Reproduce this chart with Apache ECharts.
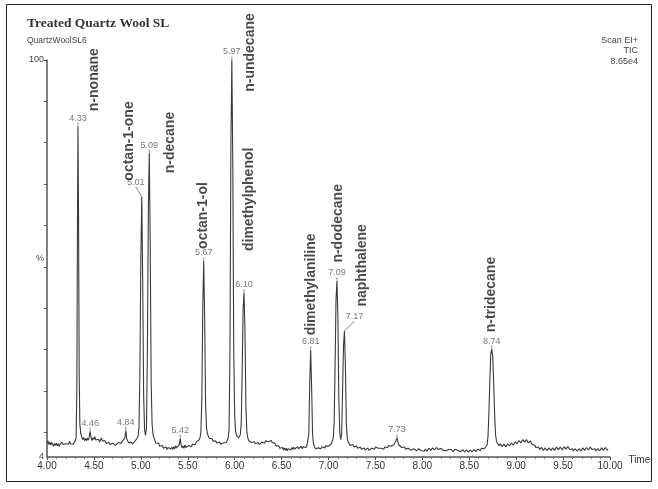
<!DOCTYPE html>
<html><head><meta charset="utf-8">
<script src="https://cdn.jsdelivr.net/npm/echarts@6/dist/echarts.min.js"></script>
<style>html,body{margin:0;padding:0;background:#fff}#c{width:658px;height:489px}</style>
</head><body><div id="c"></div>
<script>
// Chromatogram trace: [retention time (min), relative intensity (%)]
const trace = [
[4.00,7.4],[4.01,7.9],[4.02,7.0],[4.03,7.6],[4.04,6.9],[4.05,7.5],[4.06,7.1],[4.07,6.6],[4.08,7.3],[4.09,6.8],
[4.10,7.4],[4.11,6.7],[4.12,7.2],[4.13,6.5],[4.14,7.1],[4.15,6.8],[4.16,7.6],[4.17,7.0],[4.18,7.3],[4.19,6.7],
[4.20,7.2],[4.21,6.9],[4.22,7.5],[4.23,7.1],[4.24,7.8],[4.25,7.2],[4.26,7.6],[4.27,7.3],[4.28,7.1],[4.29,7.5],
[4.30,7.9],[4.31,8.6],[4.318,20],[4.325,62],[4.33,84],[4.336,63],[4.343,24],[4.35,12],[4.36,9.6],
[4.37,8.9],[4.38,8.2],[4.39,8.7],[4.40,8.0],[4.41,8.5],[4.42,7.9],[4.43,8.6],[4.44,8.1],[4.45,8.8],[4.46,10.2],
[4.47,8.6],[4.48,8.0],[4.49,8.7],[4.50,8.2],[4.51,8.9],[4.52,8.1],[4.53,8.4],[4.54,7.8],[4.55,8.3],[4.56,7.6],
[4.57,8.1],[4.58,8.6],[4.59,7.9],[4.60,8.2],[4.61,7.5],[4.62,7.9],[4.63,7.3],[4.64,7.7],[4.65,7.2],[4.66,7.5],
[4.67,7.0],[4.68,7.4],[4.69,6.9],[4.70,7.3],[4.71,7.0],[4.72,7.4],[4.73,6.8],[4.74,7.2],[4.75,7.0],[4.76,7.5],
[4.77,7.1],[4.78,7.6],[4.79,7.3],[4.80,7.8],[4.81,7.5],[4.82,8.0],[4.83,8.6],[4.84,10.4],[4.85,8.4],[4.86,7.9],
[4.87,7.4],[4.88,7.7],[4.89,7.2],[4.90,7.6],[4.91,7.1],[4.92,7.5],[4.93,7.2],[4.94,7.9],[4.95,7.6],[4.96,8.3],
[4.97,8.9],[4.98,11],[4.99,24],[5.00,52],[5.01,67],[5.02,46],[5.03,19],[5.04,10.5],[5.05,9.2],[5.06,11],
[5.07,30],[5.08,64],[5.09,77.5],[5.10,55],[5.11,22],[5.12,12],[5.13,9.5],[5.14,8.6],[5.15,8.0],[5.16,7.4],
[5.17,7.8],[5.18,7.0],[5.19,7.3],[5.20,6.6],[5.21,7.0],[5.22,6.3],[5.23,6.8],[5.24,6.1],[5.25,6.5],[5.26,5.9],
[5.27,6.4],[5.28,5.8],[5.29,6.3],[5.30,6.0],[5.31,6.6],[5.32,5.9],[5.33,6.4],[5.34,5.8],[5.35,6.5],[5.36,6.0],
[5.37,6.7],[5.38,6.2],[5.39,6.6],[5.40,6.3],[5.41,7.0],[5.42,8.5],[5.43,6.8],[5.44,6.2],[5.45,6.7],[5.46,6.1],
[5.47,6.9],[5.48,6.3],[5.49,6.6],[5.50,6.2],[5.51,6.8],[5.52,6.4],[5.53,7.0],[5.54,6.5],[5.55,7.1],[5.56,6.7],
[5.57,7.3],[5.58,7.0],[5.59,7.6],[5.60,7.3],[5.61,7.9],[5.62,8.1],[5.63,8.6],[5.64,10],[5.65,18],[5.66,40],
[5.67,51.4],[5.68,38],[5.69,17],[5.70,11],[5.71,9.6],[5.72,9.0],[5.73,8.5],[5.74,8.8],[5.75,8.1],[5.76,8.4],
[5.77,7.8],[5.78,8.1],[5.79,7.6],[5.80,7.9],[5.81,7.4],[5.82,7.7],[5.83,7.2],[5.84,7.6],[5.85,7.1],[5.86,7.5],
[5.87,7.0],[5.88,7.4],[5.89,7.2],[5.90,7.7],[5.91,7.5],[5.92,8.0],[5.93,8.6],[5.94,10.5],[5.95,30],[5.96,80],
[5.97,100],[5.98,75],[5.99,30],[6.00,14],[6.01,10.2],[6.02,9.2],[6.03,8.8],[6.04,8.6],[6.05,8.9],[6.06,9.4],
[6.07,12],[6.08,25],[6.09,40],[6.10,43.7],[6.11,34],[6.12,16],[6.13,10],[6.14,8.6],[6.15,8.0],[6.16,7.6],
[6.17,8.1],[6.18,7.5],[6.19,7.9],[6.20,7.3],[6.21,7.7],[6.22,7.2],[6.23,7.6],[6.24,7.1],[6.25,7.5],[6.26,7.0],
[6.27,7.4],[6.28,7.2],[6.29,7.6],[6.30,7.3],[6.31,7.7],[6.32,7.4],[6.33,7.9],[6.34,7.6],[6.35,8.0],[6.36,7.7],
[6.37,8.1],[6.38,7.8],[6.39,8.0],[6.40,7.5],[6.41,7.8],[6.42,7.1],[6.43,7.3],[6.44,6.7],[6.45,6.9],[6.46,6.4],
[6.47,6.7],[6.48,6.1],[6.49,6.5],[6.50,5.9],[6.51,6.3],[6.52,5.7],[6.53,6.2],[6.54,5.6],[6.55,6.1],[6.56,5.5],
[6.57,6.0],[6.58,5.6],[6.59,6.2],[6.60,5.7],[6.61,6.3],[6.62,5.8],[6.63,6.4],[6.64,5.9],[6.65,6.3],[6.66,5.8],
[6.67,6.5],[6.68,6.0],[6.69,6.4],[6.70,6.1],[6.71,6.6],[6.72,6.0],[6.73,6.5],[6.74,6.2],[6.75,6.7],[6.76,6.3],
[6.77,6.8],[6.78,7.2],[6.79,9.5],[6.80,22],[6.81,29.9],[6.82,21],[6.83,9.5],[6.84,7.2],[6.85,6.5],[6.86,6.0],
[6.87,6.3],[6.88,5.8],[6.89,6.2],[6.90,5.9],[6.91,6.4],[6.92,6.0],[6.93,6.5],[6.94,6.1],[6.95,6.6],[6.96,6.2],
[6.97,6.7],[6.98,6.4],[6.99,6.9],[7.00,6.6],[7.01,7.0],[7.02,6.8],[7.03,7.2],[7.04,7.6],[7.05,8.5],[7.06,12],
[7.07,26],[7.08,42],[7.09,46.6],[7.10,38],[7.11,18],[7.12,10],[7.13,8.2],[7.14,9.5],[7.15,20],[7.16,31],
[7.17,34.5],[7.18,26],[7.19,12],[7.20,8.5],[7.21,7.6],[7.22,7.3],[7.23,6.8],[7.24,7.2],[7.25,6.6],[7.26,7.0],
[7.27,6.4],[7.28,6.8],[7.29,6.3],[7.30,6.7],[7.31,6.1],[7.32,6.5],[7.33,6.0],[7.34,6.4],[7.35,5.9],[7.36,6.3],
[7.37,5.8],[7.38,6.2],[7.39,5.7],[7.40,6.1],[7.41,5.8],[7.42,6.2],[7.43,5.6],[7.44,6.0],[7.45,5.7],[7.46,6.1],
[7.47,5.8],[7.48,6.3],[7.49,5.9],[7.50,6.4],[7.51,6.0],[7.52,6.5],[7.53,6.1],[7.54,6.0],[7.55,5.7],[7.56,6.1],
[7.57,5.8],[7.58,6.2],[7.59,5.9],[7.60,6.4],[7.61,6.0],[7.62,6.6],[7.63,6.3],[7.64,6.8],[7.65,6.5],[7.66,6.9],
[7.67,6.6],[7.68,7.0],[7.69,6.7],[7.70,7.1],[7.71,7.3],[7.72,8.0],[7.73,8.6],[7.74,7.6],[7.75,6.9],[7.76,6.5],
[7.77,6.8],[7.78,6.3],[7.79,6.6],[7.80,6.1],[7.81,6.4],[7.82,5.9],[7.83,6.2],[7.84,5.8],[7.85,6.1],[7.86,5.7],
[7.87,6.0],[7.88,5.6],[7.89,5.9],[7.90,5.5],[7.91,6.0],[7.92,5.7],[7.93,6.1],[7.94,5.5],[7.95,5.8],[7.96,6.0],
[7.97,5.6],[7.98,5.9],[7.99,5.5],[8.00,5.9],[8.01,5.6],[8.02,5.4],[8.03,5.9],[8.04,5.8],[8.05,5.4],[8.06,5.7],
[8.07,6.1],[8.08,6.0],[8.09,5.6],[8.10,5.9],[8.11,6.2],[8.12,6.1],[8.13,5.7],[8.14,5.9],[8.15,6.3],[8.16,6.2],
[8.17,5.8],[8.18,6.0],[8.19,5.7],[8.20,6.1],[8.21,5.8],[8.22,5.6],[8.23,6.0],[8.24,5.9],[8.25,5.5],[8.26,5.8],
[8.27,5.4],[8.28,5.8],[8.29,5.5],[8.30,5.4],[8.31,5.8],[8.32,5.8],[8.33,5.3],[8.34,5.5],[8.35,5.9],[8.36,5.9],
[8.37,5.5],[8.38,5.6],[8.39,5.9],[8.40,5.8],[8.41,5.3],[8.42,5.4],[8.43,5.8],[8.44,5.7],[8.45,5.2],[8.46,5.3],
[8.47,5.7],[8.48,5.6],[8.49,5.2],[8.50,5.2],[8.51,5.7],[8.52,5.6],[8.53,5.2],[8.54,5.3],[8.55,5.8],[8.56,5.7],
[8.57,5.3],[8.58,5.4],[8.59,5.9],[8.60,5.9],[8.61,5.5],[8.62,5.6],[8.63,6.1],[8.64,6.2],[8.65,5.9],[8.66,6.0],
[8.67,6.4],[8.68,6.3],[8.69,6.9],[8.70,9],[8.71,15],[8.72,23],[8.73,29],[8.74,30.1],[8.75,28.5],
[8.76,22],[8.77,14.5],[8.78,9.5],[8.79,7.8],[8.80,7.3],[8.81,6.9],[8.82,6.7],[8.83,7.2],[8.84,7.0],[8.85,6.5],
[8.86,6.6],[8.87,7.1],[8.88,6.9],[8.89,6.5],[8.90,6.7],[8.91,7.2],[8.92,7.1],[8.93,6.7],[8.94,6.9],[8.95,7.4],
[8.96,7.3],[8.97,6.9],[8.98,7.1],[8.99,7.7],[9.00,7.6],[9.01,7.2],[9.02,7.4],[9.03,8.0],[9.04,7.9],[9.05,7.4],
[9.06,7.6],[9.07,8.2],[9.08,8.1],[9.09,7.6],[9.10,7.8],[9.11,8.2],[9.12,8.0],[9.13,7.4],[9.14,7.5],[9.15,7.9],
[9.16,7.7],[9.17,7.1],[9.18,7.0],[9.19,7.2],[9.20,6.8],[9.21,6.3],[9.22,6.2],[9.23,6.6],[9.24,6.4],[9.25,5.8],
[9.26,5.9],[9.27,6.3],[9.28,6.2],[9.29,5.6],[9.30,5.7],[9.31,6.2],[9.32,6.0],[9.33,5.5],[9.34,5.6],[9.35,6.2],
[9.36,6.1],[9.37,5.6],[9.38,5.7],[9.39,6.2],[9.40,6.0],[9.41,5.6],[9.42,5.8],[9.43,6.4],[9.44,6.3],[9.45,5.8],
[9.46,5.9],[9.47,6.4],[9.48,6.2],[9.49,5.7],[9.50,5.8],[9.51,6.5],[9.52,6.4],[9.53,5.9],[9.54,6.0],[9.55,6.5],
[9.56,6.3],[9.57,5.8],[9.58,5.7],[9.59,6.1],[9.60,6.0],[9.61,5.5],[9.62,5.6],[9.63,6.0],[9.64,5.9],[9.65,5.4],
[9.66,5.5],[9.67,6.0],[9.68,5.9],[9.69,5.5],[9.70,5.6],[9.71,6.2],[9.72,6.1],[9.73,5.6],[9.74,5.7],[9.75,6.3],
[9.76,6.2],[9.77,5.7],[9.78,5.8],[9.79,6.4],[9.80,6.3],[9.81,5.8],[9.82,5.9],[9.83,6.2],[9.84,6.0],[9.85,5.5],
[9.86,5.6],[9.87,6.0],[9.88,5.9],[9.89,5.5],[9.90,5.7],[9.91,6.2],[9.92,6.1],[9.93,5.6],[9.94,5.8],[9.95,6.3],
[9.96,6.2],[9.97,5.7],[9.98,5.9]
];

// Labelled retention times
const peakTimes = [4.33,4.46,4.84,5.01,5.09,5.42,5.67,5.97,6.10,6.81,7.09,7.17,7.73,8.74];

// Compound names and the peak each one names
const compoundNames = ['n-nonane','octan-1-one','n-decane','octan-1-ol','n-undecane','dimethylphenol','dimethylaniline','n-dodecane','naphthalene','n-tridecane'];
const compoundPeaks = [4.33,5.01,5.09,5.67,5.97,6.10,6.81,7.09,7.17,8.74];

// Axis ticks / labels
const xTickInterval = 0.5;
const yLabelValues = [4, 52, 100];          // 52 = position of the "%" label
const yTickValues = [10,20,30,40,50,60,70,80,90,100];

// Header texts
const titleText = 'Treated Quartz Wool SL';
const subtitleText = 'QuartzWoolSL6';
const infoLines = ['Scan EI+', 'TIC', '8.65e4'];

// ---------- styling (positions of annotations relative to the peaks) ----------
const timeLabelShift = { '5.01': [-6, -6], '7.17': [10, -6] };
const compoundLabelPos = {
  'n-nonane': [17, -46], 'octan-1-one': [-12, -55], 'n-decane': [21, -10], 'octan-1-ol': [0, -45],
  'n-undecane': [19, -7], 'dimethylphenol': [6, -93], 'dimethylaniline': [1, -65],
  'n-dodecane': [2, -57], 'naphthalene': [18, -65], 'n-tridecane': [0, -54]
};

function heightAt(t) {
  const p = trace.find(d => Math.abs(d[0] - t) < 1e-6);
  return p ? p[1] : 0;
}

const SANS = 'Liberation Sans, Arial, sans-serif';

const timeLabelData = peakTimes.map(t => ({ value: [t, heightAt(t)] }));

const compoundData = compoundNames.map((n, i) => {
  const t = compoundPeaks[i];
  return { value: [t, heightAt(t)], name: n, label: { position: compoundLabelPos[n] } };
});

const chart = echarts.init(document.getElementById('c'), null, { renderer: 'canvas' });
chart.setOption({
  animation: false,
  backgroundColor: '#fff',
  title: {
    text: titleText, subtext: subtitleText, left: 22, top: 12, itemGap: 5,
    textStyle: { fontFamily: 'Liberation Serif, Times New Roman, serif', fontWeight: 'bold', fontSize: 13.5, color: '#333' },
    subtextStyle: { fontFamily: SANS, fontSize: 8.5, color: '#444' }
  },
  graphic: [
    { type: 'rect', shape: { x: 6.5, y: 4.5, width: 645, height: 477 }, style: { fill: 'none', stroke: '#222', lineWidth: 1 }, silent: true },
    { type: 'text', right: 20, top: 36, style: { text: infoLines[0], fontFamily: SANS, fontSize: 9, fill: '#444' } },
    { type: 'text', right: 20, top: 46.5, style: { text: infoLines[1], fontFamily: SANS, fontSize: 9, fill: '#444' } },
    { type: 'text', right: 20, top: 57, style: { text: infoLines[2], fontFamily: SANS, fontSize: 9, fill: '#444' } }
  ],
  grid: { left: 47, right: 48, top: 60, bottom: 32, containLabel: false },
  xAxis: {
    type: 'value', min: 4, max: 10, interval: xTickInterval,
    name: 'Time', nameLocation: 'end', nameGap: 4,
    nameTextStyle: { fontFamily: SANS, fontSize: 10, color: '#333', verticalAlign: 'top', padding: [-2, 0, 0, 0] },
    axisLine: { lineStyle: { color: '#555', width: 1.5 } },
    axisTick: { show: true, length: 3, lineStyle: { color: '#555' } },
    minorTick: { show: true, splitNumber: 5, length: 2, lineStyle: { color: '#777' } },
    splitLine: { show: false }, minorSplitLine: { show: false },
    axisLabel: { formatter: v => v.toFixed(2), fontFamily: SANS, fontSize: 10, color: '#333', margin: 4 }
  },
  yAxis: {
    type: 'value', min: 4, max: 100,
    axisLine: { show: true, lineStyle: { color: '#555', width: 1.5 } },
    axisTick: { show: true, length: 3, customValues: yTickValues, lineStyle: { color: '#555' } },
    splitLine: { show: false },
    axisLabel: {
      customValues: yLabelValues,
      formatter: v => (Math.round(v) === 52 ? '%' : String(Math.round(v))),
      fontFamily: SANS, fontSize: 9, color: '#444', margin: 3
    }
  },
  series: [
    {
      type: 'line', data: trace, showSymbol: false, symbol: 'none', smooth: false,
      lineStyle: { color: '#3a3a3a', width: 1.1 }, silent: true, z: 2
    },
    {
      type: 'scatter', data: timeLabelData, symbolSize: 1, itemStyle: { color: 'rgba(0,0,0,0)' }, silent: true, z: 3,
      label: { show: true, position: 'top', distance: 3, formatter: p => p.value[0].toFixed(2),
        fontFamily: SANS, fontSize: 9, color: '#555' },
      labelLine: { show: true, lineStyle: { color: '#666', width: 0.8 } },
      labelLayout: p => {
        const s = timeLabelShift[peakTimes[p.dataIndex].toFixed(2)];
        return s ? { dx: s[0], dy: s[1] } : {};
      }
    },
    {
      type: 'scatter', data: compoundData, symbolSize: 1, itemStyle: { color: 'rgba(0,0,0,0)' }, silent: true, z: 3,
      label: { show: true, rotate: 90, align: 'center', verticalAlign: 'middle', formatter: p => p.name,
        fontFamily: SANS, fontWeight: 'bold', fontSize: 14, color: '#1a1a1a' }
    }
  ]
});
</script>
</body></html>
